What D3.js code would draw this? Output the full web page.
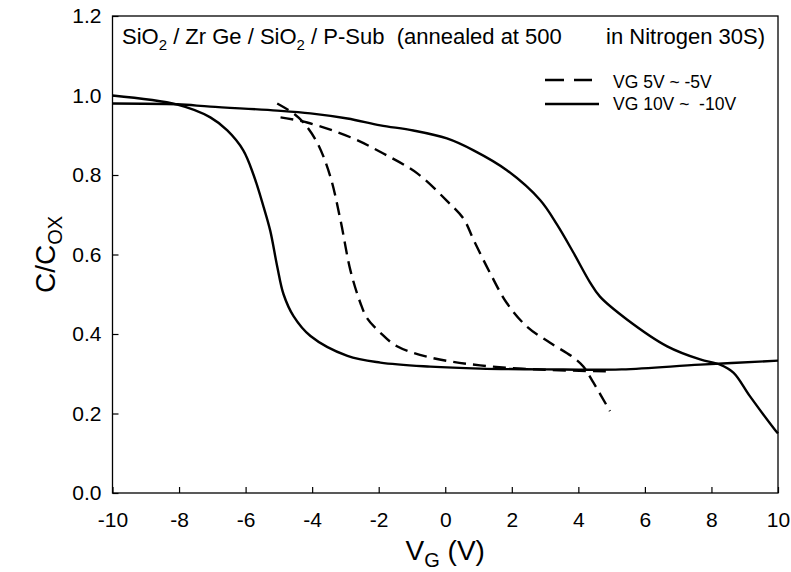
<!DOCTYPE html>
<html>
<head>
<meta charset="utf-8">
<script src="https://cdn.jsdelivr.net/npm/d3@7"></script>
<style>
  html, body { margin: 0; padding: 0; background: #fff; }
  svg { display: block; font-family: "Liberation Sans", Arial, sans-serif; }
  text { white-space: pre; }
</style>
</head>
<body>
<svg id="chart" width="791" height="572"></svg>
<script>
// Gate voltage ticks and capacitance ticks
const xTicks = [-10, -8, -6, -4, -2, 0, 2, 4, 6, 8, 10];
const yTicks = [0.0, 0.2, 0.4, 0.6, 0.8, 1.0, 1.2];

// VG 10V ~ -10V sweep: branch with transition near -5 V
const sweep10A_v = [-10, -8.05, -7.06, -6.55, -6.07, -5.76, -5.46, -5.26, -5.05, -4.86, -4.56, -4.05, -2.94, -1.95, -0.45, 1.05, 3.0, 5.3, 7.66, 10];
const sweep10A_c = [1.00, 0.977, 0.945, 0.912, 0.862, 0.80, 0.72, 0.66, 0.57, 0.50, 0.445, 0.395, 0.345, 0.328, 0.318, 0.313, 0.311, 0.311, 0.323, 0.333];

// VG 10V ~ -10V sweep: branch with transition near +4 V
const sweep10B_v = [-10, -8.05, -7.06, -5.05, -4.05, -2.94, -1.95, -0.96, 0.05, 0.85, 1.85, 2.85, 3.36, 3.85, 4.35, 4.65, 5.47, 6.67, 7.66, 8.26, 8.66, 9.16, 9.9, 10];
const sweep10B_c = [0.98, 0.978, 0.972, 0.962, 0.955, 0.942, 0.925, 0.912, 0.892, 0.862, 0.812, 0.737, 0.675, 0.605, 0.53, 0.494, 0.436, 0.369, 0.336, 0.323, 0.303, 0.243, 0.16, 0.15];

// VG 5V ~ -5V sweep: branch with transition near -3 V
const sweep5A_v = [-5.05, -4.56, -4.26, -3.84, -3.45, -3.15, -2.85, -2.55, -2.35, -1.95, -1.45, -0.45, 1.05, 3.0, 4.95];
const sweep5A_c = [0.98, 0.955, 0.932, 0.88, 0.795, 0.687, 0.56, 0.478, 0.44, 0.403, 0.369, 0.341, 0.321, 0.31, 0.306];

// VG 5V ~ -5V sweep: branch with transition near +1.5 V
const sweep5B_v = [-4.95, -4.15, -2.85, -1.86, -0.84, 0.05, 0.55, 0.85, 1.35, 1.85, 2.45, 3.15, 3.85, 4.15, 4.45, 4.95];
const sweep5B_c = [0.945, 0.932, 0.895, 0.854, 0.804, 0.735, 0.69, 0.637, 0.553, 0.478, 0.419, 0.378, 0.341, 0.318, 0.278, 0.206];

const legendLabels = ["VG 5V ~ -5V", "VG 10V ~  -10V"];

const margin = { left: 112.5, right: 13, top: 16, bottom: 79 };
const W = 791, H = 572;
const FONT = "'Liberation Sans', Arial, sans-serif";
const svg = d3.select("#chart");

const x = d3.scaleLinear().domain([-10, 10]).range([margin.left, W - margin.right]);
const y = d3.scaleLinear().domain([0, 1.2]).range([H - margin.bottom, margin.top]);

// Axes with inward ticks; labels use a plain hyphen for negatives
const xAxis = d3.axisBottom(x).tickValues(xTicks).tickSizeInner(-6).tickSizeOuter(0).tickPadding(19)
  .tickFormat(d => String(d));
const yAxis = d3.axisLeft(y).tickValues(yTicks).tickSizeInner(-6).tickSizeOuter(0).tickPadding(11)
  .tickFormat(d3.format(".1f"));

const gx = svg.append("g").attr("transform", `translate(0,${y(0)})`).call(xAxis);
const gy = svg.append("g").attr("transform", `translate(${x(-10)},0)`).call(yAxis);
[gx, gy].forEach(g => {
  g.select(".domain").remove();
  g.selectAll(".tick line").attr("stroke", "#000").attr("stroke-width", 1.2);
  g.selectAll(".tick text").attr("fill", "#000").style("font-size", "21px").style("font-family", FONT);
});

// Frame
svg.append("rect")
  .attr("x", x(-10)).attr("y", y(1.2))
  .attr("width", x(10) - x(-10)).attr("height", y(0) - y(1.2))
  .attr("fill", "none").attr("stroke", "#000").attr("stroke-width", 1.3);

// Curves
const line = d3.line().x(d => x(d[0])).y(d => y(d[1])).curve(d3.curveCatmullRom.alpha(0.5));
const series = [
  { v: sweep10A_v, c: sweep10A_c, dash: null },
  { v: sweep10B_v, c: sweep10B_c, dash: null },
  { v: sweep5A_v, c: sweep5A_c, dash: "13,7" },
  { v: sweep5B_v, c: sweep5B_c, dash: "13,7" }
];
series.forEach(s => {
  svg.append("path")
    .datum(d3.zip(s.v, s.c))
    .attr("d", line)
    .attr("fill", "none")
    .attr("stroke", "#000")
    .attr("stroke-width", 2.4)
    .attr("stroke-dasharray", s.dash);
});

// Annotation inside the plot
const title = svg.append("text").attr("x", 122).attr("y", 44)
  .style("font-size", "22px").attr("fill", "#000");
title.append("tspan").text("SiO");
title.append("tspan").attr("dy", 6).style("font-size", "15px").text("2");
title.append("tspan").attr("dy", -6).text(" / Zr Ge / SiO");
title.append("tspan").attr("dy", 6).style("font-size", "15px").text("2");
title.append("tspan").attr("dy", -6).text(" / P-Sub  (annealed at 500");
svg.append("text").attr("x", 765).attr("y", 44).attr("text-anchor", "end")
  .style("font-size", "22px").attr("fill", "#000").text("in Nitrogen 30S)");

// Legend
const legend = svg.append("g");
const legLineY = [80, 104];
const legTextY = [88, 110];
const legDash = ["19,10", null];
const legEnd = [592, 599];
legendLabels.forEach((lab, i) => {
  legend.append("line")
    .attr("x1", 545).attr("x2", legEnd[i]).attr("y1", legLineY[i]).attr("y2", legLineY[i])
    .attr("stroke", "#000").attr("stroke-width", 2.6).attr("stroke-dasharray", legDash[i]);
  legend.append("text").attr("x", 613).attr("y", legTextY[i])
    .style("font-size", "17.5px").attr("fill", "#000").text(lab);
});

// Axis titles
const yl = svg.append("text")
  .attr("transform", `translate(55,${(y(0) + y(1.2)) / 2}) rotate(-90)`)
  .attr("text-anchor", "middle").style("font-size", "28px").attr("fill", "#000");
yl.append("tspan").text("C/C");
yl.append("tspan").attr("dy", 7).style("font-size", "20px").text("OX");

const xl = svg.append("text")
  .attr("x", (x(-10) + x(10)) / 2).attr("y", 560)
  .attr("text-anchor", "middle").style("font-size", "28px").attr("fill", "#000");
xl.append("tspan").text("V");
xl.append("tspan").attr("dy", 7).style("font-size", "20px").text("G");
xl.append("tspan").attr("dy", -7).text(" (V)");
</script>
</body>
</html>
